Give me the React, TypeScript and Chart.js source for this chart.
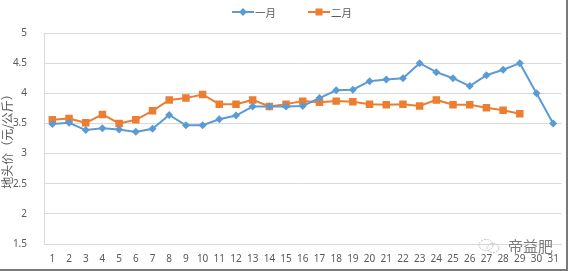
import React, { useEffect, useRef } from "react";
import { Chart, registerables } from "chart.js";

Chart.register(...registerables);

const days = ["1","2","3","4","5","6","7","8","9","10","11","12","13","14","15","16","17","18","19","20","21","22","23","24","25","26","27","28","29","30","31"];
const january = [3.49,3.51,3.39,3.42,3.40,3.36,3.41,3.64,3.47,3.47,3.57,3.63,3.78,3.78,3.78,3.79,3.92,4.05,4.06,4.20,4.23,4.25,4.50,4.35,4.25,4.12,4.30,4.39,4.50,4.00,3.50];
const february = [3.56,3.58,3.51,3.65,3.50,3.56,3.71,3.89,3.92,3.98,3.82,3.82,3.89,3.78,3.82,3.87,3.85,3.87,3.86,3.82,3.81,3.82,3.79,3.89,3.81,3.81,3.76,3.72,3.66,null,null];
const seriesNames = ["一月", "二月"];
const yAxisTitle = "地头价（元/公斤）";
const watermark = "帝益肥";

const BLUE = "#5B9BD5";
const ORANGE = "#ED7D31";
const TEXT = "#595959";
const GRID = "#D9D9D9";

function drawMarker(ctx: CanvasRenderingContext2D, shape: string, x: number, y: number, color: string) {
  ctx.fillStyle = color;
  ctx.beginPath();
  if (shape === "rectRot") {
    ctx.moveTo(x, y - 4);
    ctx.lineTo(x + 4, y);
    ctx.lineTo(x, y + 4);
    ctx.lineTo(x - 4, y);
    ctx.closePath();
  } else {
    ctx.rect(x - 3.5, y - 3.5, 7, 7);
  }
  ctx.fill();
}

const legendPlugin = {
  id: "excelLegend",
  afterDraw(chart: any) {
    const ctx: CanvasRenderingContext2D = chart.ctx;
    const items = chart.data.datasets.map((ds: any) => ({
      text: ds.label as string,
      color: ds.borderColor as string,
      shape: ds.pointStyle as string,
    }));
    ctx.save();
    ctx.font = "10.5px 'Noto Sans CJK SC', sans-serif";
    const lineW = 22;
    const textGap = 1;
    const itemGap = 32;
    const widths = items.map((it: any) => lineW + textGap + ctx.measureText(it.text).width);
    let x = 232;
    const y = 12;
    items.forEach((it: any, i: number) => {
      ctx.strokeStyle = it.color;
      ctx.lineWidth = 2;
      ctx.beginPath();
      ctx.moveTo(x, y);
      ctx.lineTo(x + lineW, y);
      ctx.stroke();
      drawMarker(ctx, it.shape, x + lineW / 2, y, it.color);
      ctx.fillStyle = TEXT;
      ctx.textBaseline = "middle";
      ctx.textAlign = "left";
      ctx.fillText(it.text, x + lineW + textGap, y + 1);
      x += widths[i] + itemGap;
    });
    ctx.restore();
  },
};

export default function App() {
  const ref = useRef<HTMLCanvasElement | null>(null);

  useEffect(() => {
    document.body.style.margin = "0";
    const canvas = ref.current;
    if (!canvas) return;
    const chart = new Chart(canvas, {
      type: "line",
      data: {
        labels: days,
        datasets: [
          {
            label: seriesNames[0],
            data: january,
            borderColor: BLUE,
            backgroundColor: BLUE,
            borderWidth: 2,
            pointStyle: "rectRot",
            pointRadius: 4,
            pointBorderWidth: 0,
            tension: 0,
          },
          {
            label: seriesNames[1],
            data: february,
            borderColor: ORANGE,
            backgroundColor: ORANGE,
            borderWidth: 2,
            pointStyle: "rect",
            pointRadius: 5.3,
            pointBorderWidth: 0,
            tension: 0,
          },
        ],
      },
      plugins: [legendPlugin],
      options: {
        responsive: false,
        animation: false,
        devicePixelRatio: 1,
        layout: { padding: { left: 0, right: 2, top: 33, bottom: 0 } },
        plugins: {
          tooltip: { enabled: false },
          legend: { display: false },
        },
        scales: {
          x: {
            offset: true,
            grid: { display: false, drawTicks: false },
            border: { display: true, color: GRID },
            ticks: {
              color: TEXT,
              font: { size: 10, family: "'Noto Sans', sans-serif" },
              autoSkip: false,
              maxRotation: 0,
              padding: 9,
            },
            afterFit: (s: any) => {
              s.height = 27;
            },
          },
          y: {
            min: 1.5,
            max: 5,
            grid: { color: GRID, drawTicks: false },
            border: { display: true, color: GRID },
            ticks: {
              stepSize: 0.5,
              color: TEXT,
              font: { size: 10, family: "'Noto Sans', sans-serif" },
              padding: 17,
              callback: (v: any) => String(Number(v)),
            },
            title: {
              display: true,
              text: yAxisTitle,
              color: TEXT,
              font: { size: 12, family: "'Noto Sans CJK SC', sans-serif" },
              padding: 0,
            },
            afterFit: (s: any) => {
              s.width = 44;
            },
          },
        },
      },
    });
    return () => chart.destroy();
  }, []);

  return (
    <div style={{ position: "relative", width: 568, height: 271, background: "#fff", overflow: "hidden" }}>
      <canvas ref={ref} width={568} height={271} style={{ display: "block" }} />
      <div
        style={{
          position: "absolute",
          left: 478,
          top: 237,
          display: "flex",
          alignItems: "center",
          gap: 7,
          color: "#7a7a7a",
          fontFamily: "'Noto Sans CJK SC', sans-serif",
          fontSize: 15,
          lineHeight: "18px",
        }}
      >
        <svg width="23" height="16" viewBox="0 0 23 16">
          <ellipse cx="8" cy="7" rx="7" ry="5.5" fill="none" stroke="#c0c0c0" strokeWidth="1" strokeDasharray="2 1" />
          <ellipse cx="15" cy="10" rx="6" ry="4.5" fill="none" stroke="#c0c0c0" strokeWidth="1" strokeDasharray="2 1" />
        </svg>
        <span>{watermark}</span>
      </div>
      <div
        style={{
          position: "absolute",
          left: 0,
          top: 0,
          width: 568,
          height: 271,
          boxSizing: "border-box",
          borderRight: "2px solid #7a7a7a",
          borderBottom: "2px solid #7a7a7a",
          pointerEvents: "none",
        }}
      />
    </div>
  );
}
